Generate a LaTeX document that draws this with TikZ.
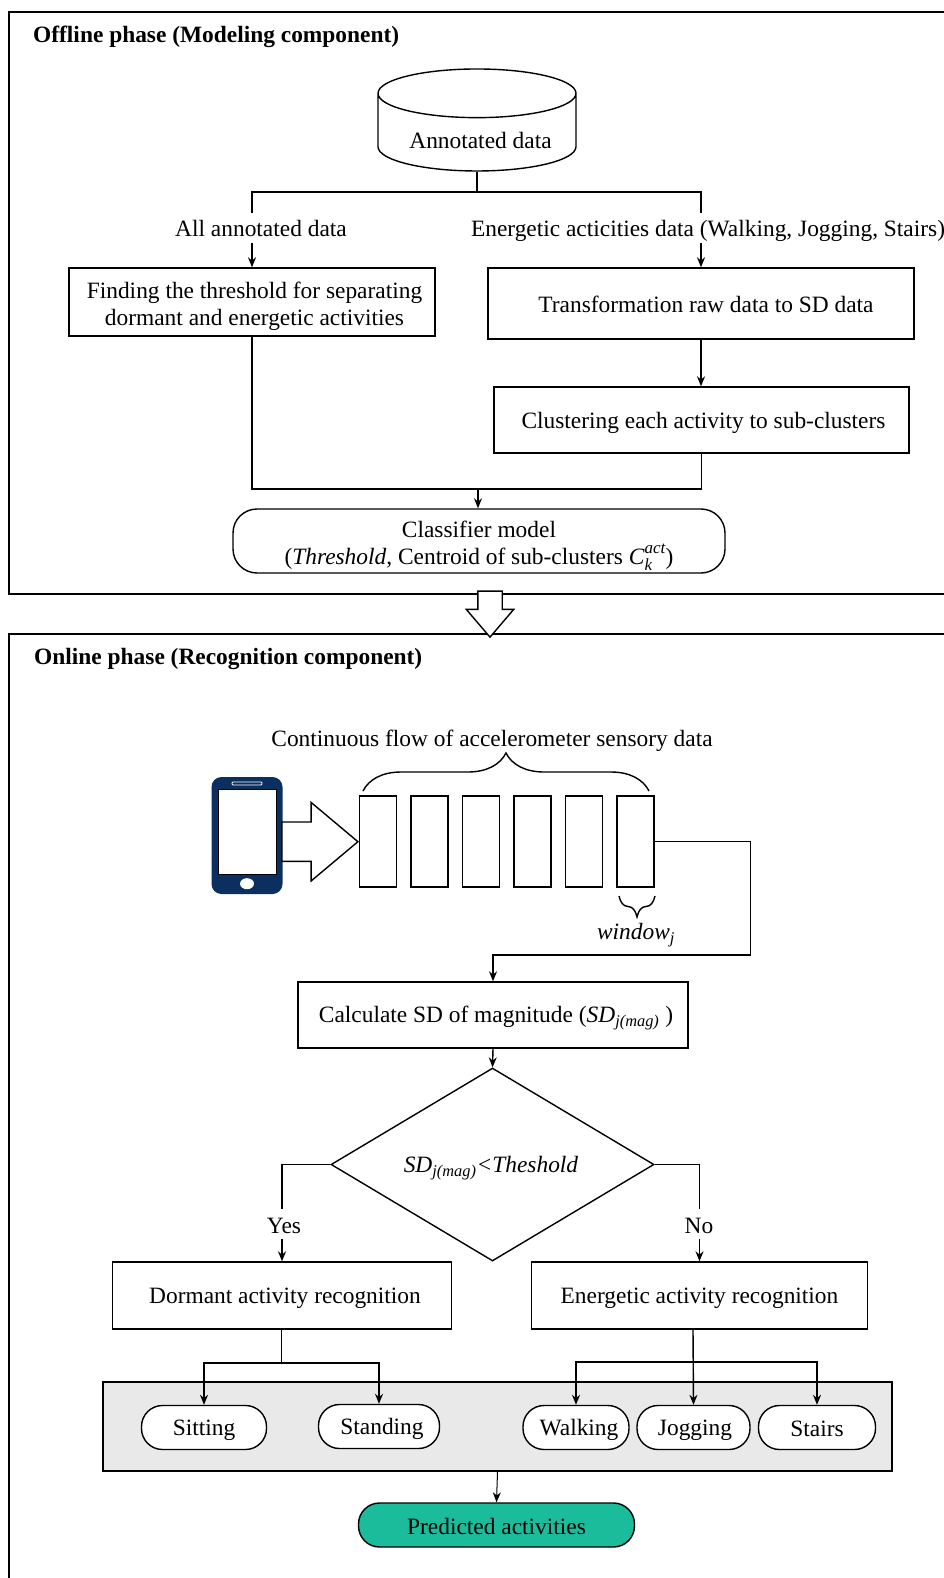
\documentclass[tikz,border=0pt]{standalone}
\usepackage{fontspec}
\setmainfont{Liberation Serif}
\usetikzlibrary{arrows.meta,shapes.geometric,shapes.arrows,decorations.pathreplacing}
\definecolor{phoneblue}{HTML}{0B2F5E}
\definecolor{panelgray}{HTML}{E9E9E9}
\definecolor{resultgreen}{HTML}{1ABC9C}
\newcommand{\linestrut}{\rule[-4pt]{0pt}{26pt}}
\newcommand{\toplift}{\rule{0pt}{24.5pt}}
\newcommand{\smalltxt}[1]{{\fontsize{17}{17}\selectfont\textit{#1}}}
\begin{document}
\begin{tikzpicture}[x=1pt,y=-1pt,
  every node/.style={font=\fontsize{23.4}{27}\selectfont},
  txt/.style={inner sep=0pt, align=center, execute at begin node=\linestrut, execute at end node=\linestrut},
  box/.style={txt, rectangle, draw=black, fill=white, line width=1.4pt},
  pill/.style={box, rounded corners=21pt, minimum height=44pt},
  window/.style={box, minimum width=37pt, minimum height=91pt},
  title/.style={txt, anchor=west, font=\fontsize{23.4}{27}\selectfont\bfseries},
  label/.style={txt, fill=white, minimum height=30pt},
  hollow/.style={single arrow, draw=black, fill=white, line width=1.4pt, inner sep=0pt, single arrow head indent=0pt},
  link/.style={line width=1.4pt},
  arrow/.style={link, -{Stealth[length=10pt,width=8pt]}},
  curly/.style={line width=1.4pt, decorate}]
  \useasboundingbox (0,0) rectangle (944,1578);
  \path[fill=white] (0,0) rectangle (944,1578);

  \draw[link] (944,12) -- (9,12) -- (9,594) -- (944,594);
  \draw[link] (944,634) -- (9,634) -- (9,1578);
  \node[title] (offline) at (33,34) {Offline phase (Modeling component)};
  \node[title] (online) at (34,656) {Online phase (Recognition component)};

  \node[cylinder, shape border rotate=90, draw=black, fill=white, line width=1.4pt, inner sep=0pt,
    minimum width=198pt, minimum height=102pt, aspect=.342] (data) at (477,132.5) {\phantom{Annotated data}};
  \node[txt] (datalabel) at (480.5,140) {Annotated data};
  \node[box, minimum width=366pt, minimum height=68pt] (find) at (252,302) {\toplift\hspace*{5pt}Finding the threshold for separating\\\hspace*{5pt}dormant and energetic activities};
  \node[box, minimum width=426pt, minimum height=71pt] (transform) at (701,303.5) {\hspace*{10pt}Transformation raw data to SD data};
  \node[box, minimum width=415pt, minimum height=66pt] (cluster) at (701.5,420) {\hspace*{4pt}Clustering each activity to sub-clusters};
  \node[box, rounded corners=24pt, minimum width=492pt, minimum height=64pt] (model) at (479,541) {\toplift Classifier model\\(\textit{Threshold}, Centroid of sub-clusters \textit{C}\rlap{\raisebox{-6pt}[0pt][0pt]{\smalltxt{k}}}\raisebox{11pt}[0pt][0pt]{\smalltxt{act}})};
  \coordinate (split) at (477,192);
  \coordinate (merge) at (478,489);
  \draw[link] (data.south) -- (split);
  \draw[arrow] (split) -| (find.north);
  \draw[arrow] (split) -| (transform.north);
  \draw[arrow] (transform.south) -- (transform.south |- cluster.north);
  \draw[link] (find.south) |- (merge);
  \draw[link] (cluster.south) |- (merge);
  \draw[arrow] (merge) -- (merge |- model.north);
  \node[label] (alldata) at (261,228) {All annotated data};
  \node[label] (energydata) at (708,228) {Energetic acticities data (Walking, Jogging, Stairs)};

  \node[hollow, inner xsep=11.5pt, shape border rotate=270, minimum height=46pt, minimum width=46pt, single arrow head extend=11.5pt,
    single arrow tip angle=81] (phasearrow) at (490,607) {};

  \node[rectangle, rounded corners=10pt, fill=phoneblue, minimum width=71pt, minimum height=117pt, inner sep=0pt] (phone) at (247,835.5) {};
  \node[rectangle, draw=black, fill=white, line width=.6pt, minimum width=58pt, minimum height=85pt, inner sep=0pt] (screen) at (247,831.5) {};
  \node[rectangle, rounded corners=1pt, draw=white, fill=phoneblue, line width=.8pt, minimum width=30pt, minimum height=3pt, inner sep=0pt] (speaker) at (247,783.5) {};
  \node[ellipse, fill=white, minimum width=14pt, minimum height=11pt, inner sep=0pt] (homekey) at (247,883.7) {};
  \node[hollow, inner ysep=19pt, minimum height=76pt, minimum width=77pt, single arrow head extend=19.5pt,
    single arrow tip angle=80, anchor=tip] (sensearrow) at (359,841.7) {};

  \foreach \i in {1,...,6}
    \node[window] (win\i) at ({378+51.5*(\i-1)},841.5) {};
  \coordinate (flowleft) at (363,791);
  \coordinate (flowright) at (649,791);
  \draw[curly, decoration={brace, amplitude=38pt}] (flowleft) -- (flowright);
  \node[txt] (flow) at (492,738) {Continuous flow of accelerometer sensory data};
  \coordinate (winleft) at (619,896);
  \coordinate (winright) at (655,896);
  \draw[curly, decoration={brace, mirror, amplitude=21pt}] (winleft) -- (winright);
  \node[txt] (winlabel) at (636,932) {\textit{window\textsubscript{j}}};

  \node[box, minimum width=390pt, minimum height=66pt] (calc) at (493,1015) {\hspace*{6pt}Calculate SD of magnitude (\textit{SD\textsubscript{j(mag)}} )};
  \node[diamond, draw=black, fill=white, line width=1.4pt, inner sep=0pt, aspect=1.67, minimum width=323pt, minimum height=193pt] (test) at (492.5,1164.5) {};
  \node[txt] (testlabel) at (491,1165) {\textit{SD\textsubscript{j(mag)}{<}Theshold}};
  \node[box, minimum width=339pt, minimum height=67pt] (dormant) at (282,1295.5) {\hspace*{6pt}Dormant activity recognition};
  \node[box, minimum width=336pt, minimum height=67pt] (energetic) at (699.5,1295.5) {Energetic activity recognition};
  \coordinate (sdcorner) at (750.5,955);
  \draw[link] (win6.east |- 0,841.7) -| (sdcorner);
  \draw[arrow] (sdcorner) -| (calc.north);
  \draw[arrow] (calc.south) -- (test.north);
  \draw[arrow] (test.west) -| (dormant.north);
  \draw[arrow] (test.east) -| (energetic.north);
  \node[label, inner xsep=2pt] (yes) at (284,1224) {Yes};
  \node[label, inner xsep=2pt] (no) at (699,1224) {No};

  \node[box, fill=panelgray, minimum width=789pt, minimum height=89pt] (panel) at (497.5,1426.5) {};
  \node[pill, minimum width=125pt] (sitting) at (204,1427.5) {Sitting};
  \node[pill, minimum width=121pt] (standing) at (379,1426.5) {\hspace*{6pt}Standing};
  \node[pill, minimum width=106pt] (walking) at (576,1427.5) {\hspace*{6pt}Walking};
  \node[pill, minimum width=113pt] (jogging) at (693.5,1427.5) {\hspace*{3pt}Jogging};
  \node[pill, minimum width=117pt] (stairs) at (817,1427.5) {Stairs};
  \node[pill, fill=resultgreen, minimum width=276pt] (predicted) at (496.5,1525) {Predicted activities};
  \coordinate (dormantsplit) at (281.5,1363);
  \coordinate (energeticsplit) at (693,1362);
  \draw[link] (dormant.south -| dormantsplit) -- (dormantsplit);
  \draw[arrow] (dormantsplit) -| (sitting.north);
  \draw[arrow] (dormantsplit) -| (standing.north);
  \draw[arrow] (energetic.south -| energeticsplit) -- (jogging.north);
  \draw[arrow] (energeticsplit) -| (walking.north);
  \draw[arrow] (energeticsplit) -| (stairs.north);
  \draw[line width=1pt, -{Stealth[length=10pt,width=8pt]}] (panel.south) -- (predicted.north);
\end{tikzpicture}
\end{document}
